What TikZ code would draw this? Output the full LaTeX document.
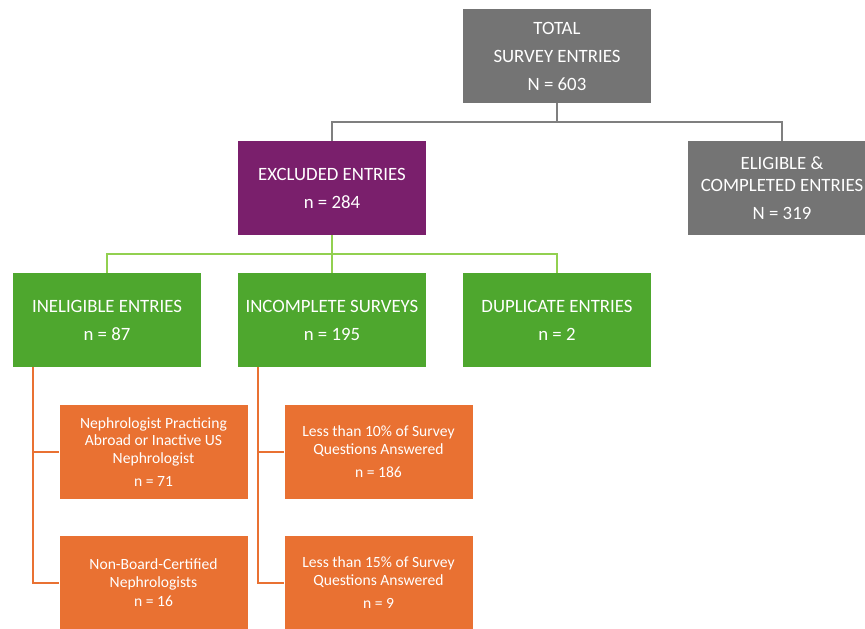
\documentclass[tikz,border=0pt]{standalone}
\usepackage{fontspec}
\setmainfont{Carlito}
\definecolor{boxgray}{HTML}{747474}
\definecolor{linegray}{HTML}{7F7F7F}
\definecolor{purp}{HTML}{7A1F6C}
\definecolor{grn}{HTML}{4EA72E}
\definecolor{lgrn}{HTML}{92D050}
\definecolor{orng}{HTML}{E97132}
\begin{document}
\begin{tikzpicture}[x=1pt,y=-1pt,
  box/.style={rectangle,inner sep=0pt,minimum width=188pt,minimum height=94pt,text=white,align=center},
  big/.style={box,font=\fontsize{18.8}{28}\selectfont},
  small/.style={box,font=\fontsize{15.6}{17.5}\selectfont},
  gline/.style={draw=linegray,line width=2pt},
  grline/.style={draw=lgrn,line width=2pt},
  oline/.style={draw=orng,line width=2pt}]
\useasboundingbox (0,0) rectangle (865,629);
\node[big,fill=boxgray] (total) at (557,56) {TOTAL\\SURVEY ENTRIES\\N = 603};
\node[big,fill=purp] (excl) at (332,188) {EXCLUDED ENTRIES\\n = 284};
\node[big,fill=boxgray] (elig) at (782,188) {ELIGIBLE \&\\[-6pt]COMPLETED ENTRIES\\N = 319};
\node[big,fill=grn] (inel) at (107,320) {INELIGIBLE ENTRIES\\n = 87};
\node[big,fill=grn] (inc) at (332,320) {INCOMPLETE SURVEYS\\n = 195};
\node[big,fill=grn] (dup) at (557,320) {DUPLICATE ENTRIES\\n = 2};
\node[small,fill=orng] (o1) at (153.5,452) {Nephrologist Practicing\\Abroad or Inactive US\\Nephrologist\\[6pt]n = 71};
\node[small,fill=orng] (o2) at (153.5,583) {Non-Board-Certified\\Nephrologists\\[2pt]n = 16};
\node[small,fill=orng] (o3) at (378.5,452) {Less than 10\% of Survey\\Questions Answered\\[6pt]n = 186};
\node[small,fill=orng] (o4) at (378.5,583) {Less than 15\% of Survey\\Questions Answered\\[6pt]n = 9};
% gray connectors
\draw[gline] (total.south) -- ++(0,19) coordinate (gj);
\draw[gline] (excl.north) -- (excl.north |- gj) -- (elig.north |- gj) -- (elig.north);
% green connectors
\draw[grline] (excl.south) -- ++(0,19) coordinate (grj);
\draw[grline] (inel.north) -- (inel.north |- grj) -- (dup.north |- grj) -- (dup.north);
\draw[grline] (inc.north) -- (inc.north |- grj);
% orange connectors
\draw[oline] (inel.south west) ++(20,0) coordinate (a) -- (a |- o2.west) -- (o2.west);
\draw[oline] (a |- o1.west) -- (o1.west);
\draw[oline] (inc.south west) ++(20,0) coordinate (b) -- (b |- o4.west) -- (o4.west);
\draw[oline] (b |- o3.west) -- (o3.west);
\end{tikzpicture}
\end{document}
